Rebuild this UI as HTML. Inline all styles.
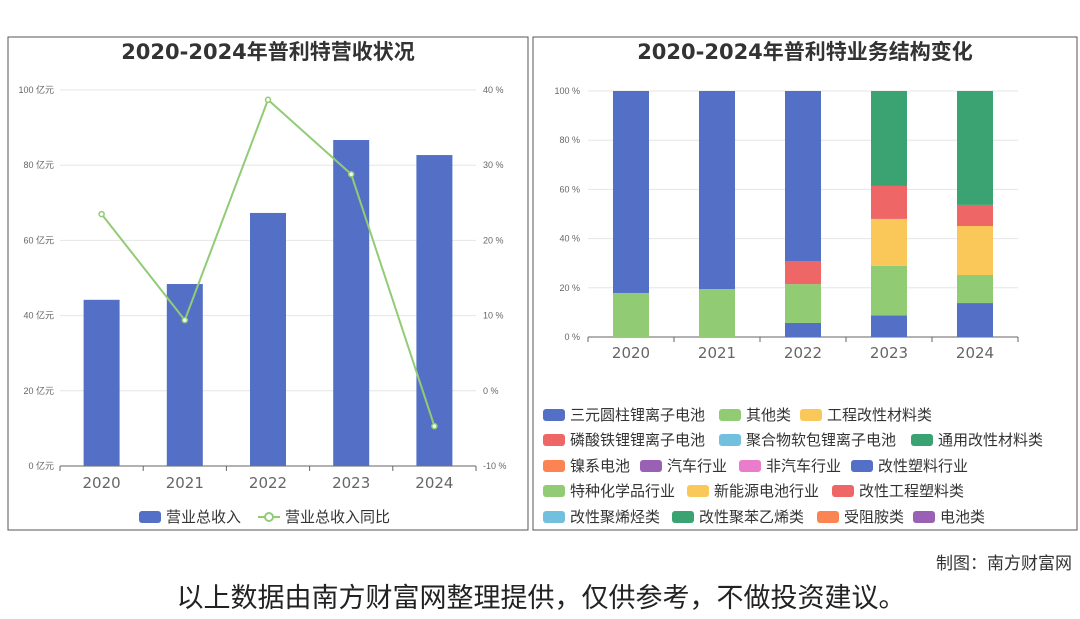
<!DOCTYPE html>
<html><head><meta charset="utf-8">
<style>
body{margin:0;width:1080px;height:614px;background:#fff;overflow:hidden;font-family:"Liberation Sans","Noto Sans CJK SC",sans-serif}
svg text{font-family:"Liberation Sans","Noto Sans CJK SC",sans-serif}
svg text.dj{font-family:"DejaVu Sans","Noto Sans CJK SC",sans-serif}
</style></head><body>
<svg id="s" width="1080" height="614">
<rect x="8" y="37" width="520" height="493" fill="none" stroke="#555" stroke-width="1"/>
<rect x="533" y="37" width="544" height="493" fill="none" stroke="#555" stroke-width="1"/>
<text class="dj" x="268" y="59" text-anchor="middle" font-size="21" font-weight="bold" fill="#333">2020-2024年普利特营收状况</text>
<text class="dj" x="805" y="59" text-anchor="middle" font-size="21" font-weight="bold" fill="#333">2020-2024年普利特业务结构变化</text>
<g id="L"></g><g id="R"></g>
<text x="1072" y="569" text-anchor="end" font-size="17" fill="#333">制图：南方财富网</text>
<text x="541" y="607" text-anchor="middle" font-size="27" fill="#222">以上数据由南方财富网整理提供，仅供参考，不做投资建议。</text>
</svg>
<script>
const years=["2020","2021","2022","2023","2024"];
const revenue=[44.2,48.4,67.3,86.7,82.7];
const growth=[23.5,9.4,38.7,28.8,-4.7];
const leftTicks=[0,20,40,60,80,100];
const rightTicks=[-10,0,10,20,30,40];
const pctTicks=[0,20,40,60,80,100];
const segNames=["改性塑料行业","其他类","特种化学品行业","新能源电池行业","改性工程塑料类","改性聚苯乙烯类","三元圆柱锂离子电池"];
const segColors=["#5470c6","#91cc75","#91cc75","#fac858","#ee6666","#3ba272","#5470c6"];
const s0=[0,0,5.7,8.8,13.8];
const s1=[17.9,19.5,0,0,0];
const s2=[0,0,15.8,20.1,11.4];
const s3=[0,0,0,19.1,19.9];
const s4=[0,0,9.4,13.4,8.6];
const s5=[0,0,0,38.6,46.3];
const s6=[82.1,80.5,69.1,0,0];
const segData=[s0,s1,s2,s3,s4,s5,s6];
const legendNames=["三元圆柱锂离子电池","其他类","工程改性材料类","磷酸铁锂锂离子电池","聚合物软包锂离子电池","通用改性材料类","镍系电池","汽车行业","非汽车行业","改性塑料行业","特种化学品行业","新能源电池行业","改性工程塑料类","改性聚烯烃类","改性聚苯乙烯类","受阻胺类","电池类"];
const pal=["#5470c6","#91cc75","#fac858","#ee6666","#73c0de","#3ba272","#fc8452","#9a60b4","#ea7ccc"];
const NS="http://www.w3.org/2000/svg";
function mk(p,t,a,txt){const e=document.createElementNS(NS,t);for(const k in a)e.setAttribute(k,a[k]);if(txt!==undefined)e.textContent=txt;p.appendChild(e);return e;}
const L=document.getElementById('L');
const lx0=60,lx1=476,ly0=466,ly1=90;
const lx=i=>lx0+(lx1-lx0)/5*(i+0.5);
const ly=v=>ly0-(v/100)*(ly0-ly1);
const ry=v=>ly0-((v+10)/50)*(ly0-ly1);
leftTicks.forEach((t,i)=>{
 const g=mk(L,'line',{x1:lx0,x2:lx1,y1:ly(t),y2:ly(t),stroke:i?'#e6e6e6':'#666'});
 
 const a=mk(L,'text',{x:lx0-6,y:ly(t)+3,'text-anchor':'end','font-size':9,fill:'#666'},t+' 亿元');
 
});
rightTicks.forEach(t=>{
 const a=mk(L,'text',{x:lx1+7,y:ry(t)+3,'font-size':9,fill:'#666'},t+' %');
 
});
for(let i=0;i<=5;i++){const k=mk(L,'line',{x1:lx0+(lx1-lx0)/5*i,x2:lx0+(lx1-lx0)/5*i,y1:ly0,y2:ly0+5,stroke:'#666'});}
years.forEach((y,i)=>{
 const b=mk(L,'rect',{x:lx(i)-18,y:ly(revenue[i]),width:36,height:ly0-ly(revenue[i]),fill:'#5470c6'});
 
 const t=mk(L,'text',{class:'dj',x:lx(i),y:488,'text-anchor':'middle','font-size':15,fill:'#666'},y);
 
});
const ln=mk(L,'polyline',{points:growth.map((g,i)=>lx(i)+','+ry(g)).join(' '),fill:'none',stroke:'#91cc75','stroke-width':2});

growth.forEach((g,i)=>{const c=mk(L,'circle',{cx:lx(i),cy:ry(g),r:2.5,fill:'#fff',stroke:'#91cc75','stroke-width':1.5});});
const lg1=mk(L,'rect',{x:139,y:511,width:22,height:12,rx:3,fill:'#5470c6'});
const lt1=mk(L,'text',{x:166,y:522,'font-size':15,fill:'#333'},'营业总收入');
const lg2=mk(L,'line',{x1:258,x2:280,y1:517,y2:517,stroke:'#91cc75','stroke-width':2});
const lg3=mk(L,'circle',{cx:269,cy:517,r:4,fill:'#fff',stroke:'#91cc75','stroke-width':2});
const lt2=mk(L,'text',{x:285,y:522,'font-size':15,fill:'#333'},'营业总收入同比');
const R=document.getElementById('R');
const rx0=588,rx1=1018,py0=337,py1=91;
const rx=i=>rx0+(rx1-rx0)/5*(i+0.5);
const py=v=>py0-(v/100)*(py0-py1);
pctTicks.forEach((t,i)=>{
 const g=mk(R,'line',{x1:rx0,x2:rx1,y1:py(t),y2:py(t),stroke:i?'#e6e6e6':'#666'});
 
 const a=mk(R,'text',{x:rx0-8,y:py(t)+3,'text-anchor':'end','font-size':9,fill:'#666'},t+' %');
 
});
for(let i=0;i<=5;i++){const k=mk(R,'line',{x1:rx0+(rx1-rx0)/5*i,x2:rx0+(rx1-rx0)/5*i,y1:py0,y2:py0+5,stroke:'#666'});}
years.forEach((y,i)=>{
 let acc=0;
 segData.forEach((arr,k)=>{
  const v=arr[i];if(!v)return;
  const r=mk(R,'rect',{x:rx(i)-18,y:py(acc+v),width:36,height:py(acc)-py(acc+v),fill:segColors[k]});
  
  acc+=v;
 });
 const t=mk(R,'text',{class:'dj',x:rx(i),y:358,'text-anchor':'middle','font-size':15,fill:'#666'},y);
 
});
const legX=[[543,719,800],[543,719,911],[543,640,739,851],[543,687,832],[543,672,817,913]];
const legY=[415,440,466,491,517];
let n=0;
legX.forEach((row,r)=>row.forEach(x=>{
 const ic=mk(R,'rect',{x:x,y:legY[r]-6,width:22,height:12,rx:3,fill:pal[n%9]});
 
 const tx=mk(R,'text',{x:x+27,y:legY[r]+5,'font-size':15,fill:'#333'},legendNames[n]);
 
 n++;
}));
</script>
</body></html>
